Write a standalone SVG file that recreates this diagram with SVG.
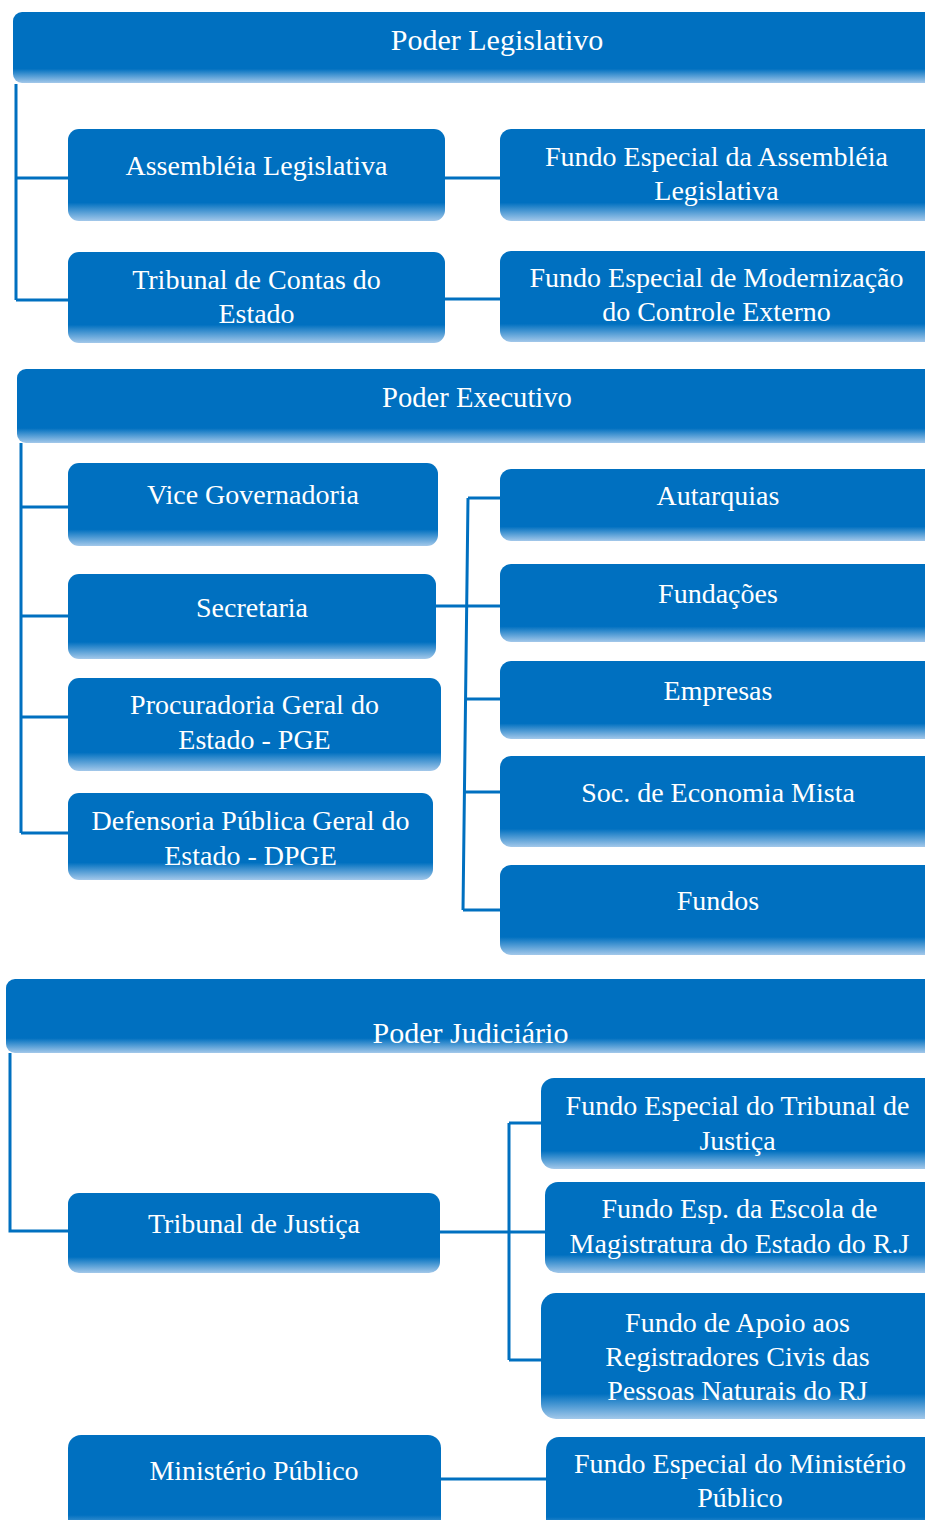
<svg xmlns="http://www.w3.org/2000/svg" width="925" height="1520" viewBox="0 0 925 1520">
<defs>
<linearGradient id="g" x1="0" y1="0" x2="0" y2="1">
<stop offset="0" stop-color="#0070C0"/>
<stop offset="0.8" stop-color="#0070C0"/>
<stop offset="1" stop-color="#A3C8EA"/>
</linearGradient>
<style>
.b{fill:url(#g);}
.t{font-family:"Liberation Serif","Times New Roman",serif;font-size:28px;fill:#fff;text-anchor:middle;}
.h{font-size:30px;}
.c{fill:none;stroke:#0070C0;stroke-width:3;}
</style>
</defs>
<rect width="925" height="1520" fill="#fff"/>
<g id="connectors">
<path class="c" d="M16 84 V300 M16 178 H68 M16 300 H68"/>
<path class="c" d="M445 178 H500 M445 299 H500"/>
<path class="c" d="M21 443 V833 M21 507 H68 M21 616 H68 M21 717 H68 M21 833 H68"/>
<path class="c" d="M436 606 H500 M468 498 L463 910 M468 498 H500 M465 699 H500 M464 792 H500 M463 910 H500"/>
<path class="c" d="M10 1053 V1231 H68"/>
<path class="c" d="M440 1232 H545 M509 1123 V1360 M509 1123 H541 M509 1360 H541"/>
<path class="c" d="M441 1479 H546"/>
</g>
<g id="legislativo">
<rect class="b" x="13" y="12" width="967" height="71" rx="9"/>
<text class="t h" x="497" y="50">Poder Legislativo</text>
</g>
<g id="assembleia">
<rect class="b" x="68" y="129" width="377" height="92" rx="11"/>
<text class="t" x="256.5" y="175">Assembléia Legislativa</text>
</g>
<g id="fundo-assembleia">
<rect class="b" x="500" y="129" width="470" height="92" rx="11"/>
<text class="t" x="716.5" y="166">Fundo Especial da Assembléia</text>
<text class="t" x="716.5" y="200">Legislativa</text>
</g>
<g id="tce">
<rect class="b" x="68" y="252" width="377" height="91" rx="11"/>
<text class="t" x="256.5" y="289">Tribunal de Contas do</text>
<text class="t" x="256.5" y="323">Estado</text>
</g>
<g id="fundo-controle">
<rect class="b" x="500" y="251" width="470" height="91" rx="11"/>
<text class="t" x="716.5" y="287">Fundo Especial de Modernização</text>
<text class="t" x="716.5" y="321">do Controle Externo</text>
</g>
<g id="executivo">
<rect class="b" x="17" y="369" width="963" height="74" rx="9"/>
<text class="t" x="477" y="407" style="font-size:28.6px">Poder Executivo</text>
</g>
<g id="vice">
<rect class="b" x="68" y="463" width="370" height="83" rx="11"/>
<text class="t" x="253" y="504">Vice Governadoria</text>
</g>
<g id="secretaria">
<rect class="b" x="68" y="574" width="368" height="85" rx="11"/>
<text class="t" x="252" y="617">Secretaria</text>
</g>
<g id="pge">
<rect class="b" x="68" y="678" width="373" height="93" rx="11"/>
<text class="t" x="254.5" y="714">Procuradoria Geral do</text>
<text class="t" x="254.5" y="749">Estado - PGE</text>
</g>
<g id="dpge">
<rect class="b" x="68" y="793" width="365" height="87" rx="11"/>
<text class="t" x="250.5" y="830">Defensoria Pública Geral do</text>
<text class="t" x="250.5" y="865">Estado - DPGE</text>
</g>
<g id="autarquias">
<rect class="b" x="500" y="469" width="470" height="72" rx="11"/>
<text class="t" x="718" y="505">Autarquias</text>
</g>
<g id="fundacoes">
<rect class="b" x="500" y="564" width="470" height="78" rx="11"/>
<text class="t" x="718" y="603">Fundações</text>
</g>
<g id="empresas">
<rect class="b" x="500" y="661" width="470" height="78" rx="11"/>
<text class="t" x="718" y="700">Empresas</text>
</g>
<g id="soc">
<rect class="b" x="500" y="756" width="470" height="91" rx="11"/>
<text class="t" x="718" y="802">Soc. de Economia Mista</text>
</g>
<g id="fundos">
<rect class="b" x="500" y="865" width="470" height="90" rx="11"/>
<text class="t" x="718" y="910">Fundos</text>
</g>
<g id="judiciario">
<rect class="b" x="6" y="979" width="974" height="74" rx="9"/>
<text class="t h" x="470.5" y="1043">Poder Judiciário</text>
</g>
<g id="tj">
<rect class="b" x="68" y="1193" width="372" height="80" rx="11"/>
<text class="t" x="254" y="1233">Tribunal de Justiça</text>
</g>
<g id="fundo-tj">
<rect class="b" x="541" y="1078" width="440" height="91" rx="13"/>
<text class="t" x="737.5" y="1115">Fundo Especial do Tribunal de</text>
<text class="t" x="737.5" y="1150">Justiça</text>
</g>
<g id="fundo-escola">
<rect class="b" x="545" y="1182" width="440" height="91" rx="13"/>
<text class="t" x="739.5" y="1218">Fundo Esp. da Escola de</text>
<text class="t" x="739.5" y="1253">Magistratura do Estado do R.J</text>
</g>
<g id="fundo-apoio">
<rect class="b" x="541" y="1293" width="440" height="126" rx="15"/>
<text class="t" x="737.5" y="1332">Fundo de Apoio aos</text>
<text class="t" x="737.5" y="1366">Registradores Civis das</text>
<text class="t" x="737.5" y="1400">Pessoas Naturais do RJ</text>
</g>
<g id="mp">
<rect class="b" x="68" y="1435" width="373" height="100" rx="13"/>
<text class="t" x="254" y="1480">Ministério Público</text>
</g>
<g id="fundo-mp">
<rect class="b" x="546" y="1437" width="440" height="100" rx="13"/>
<text class="t" x="740" y="1473">Fundo Especial do Ministério</text>
<text class="t" x="740" y="1507">Público</text>
</g>
</svg>
